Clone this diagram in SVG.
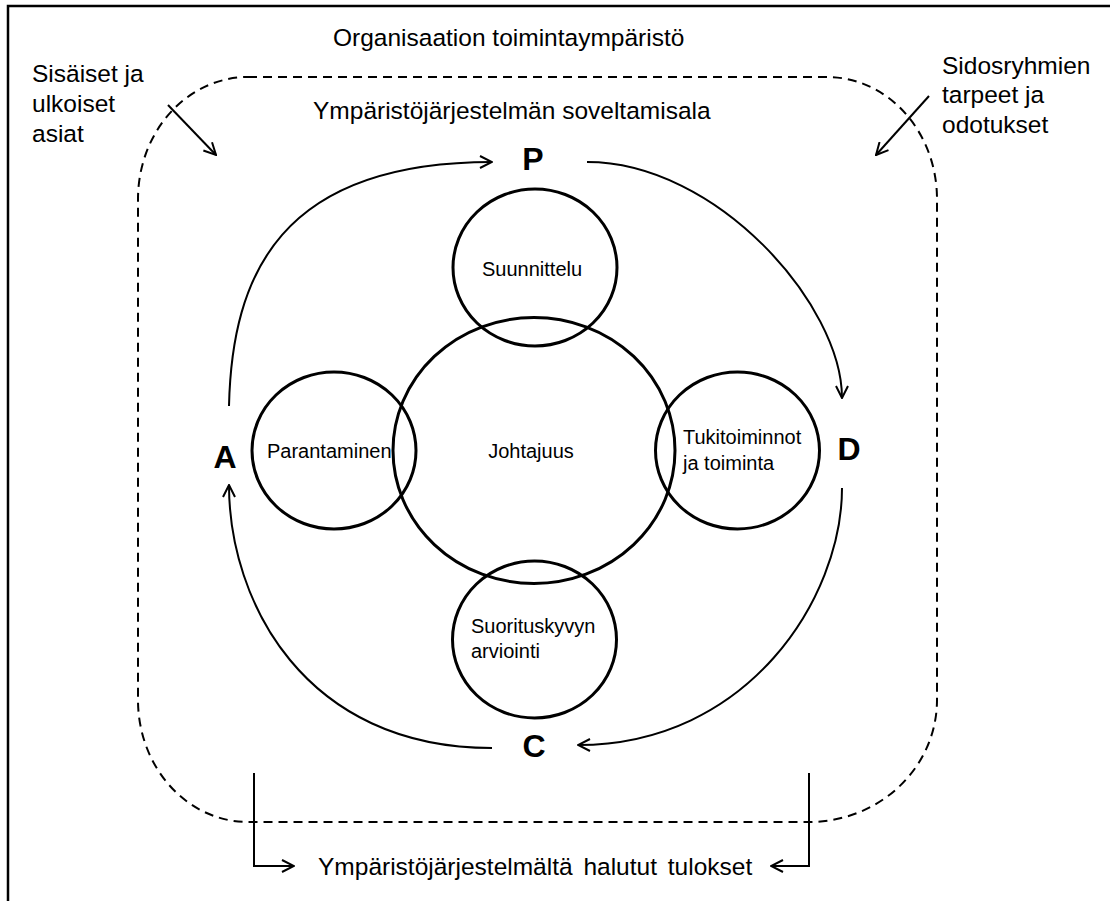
<svg xmlns="http://www.w3.org/2000/svg" width="1110" height="901" viewBox="0 0 1110 901">
<style>
text{font-family:"Liberation Sans",Arial,sans-serif;fill:#000}
.lbl{font-size:24.5px}
.in{font-size:20px}
.big{font-size:32px;font-weight:bold}
.ring{fill:none;stroke:#000;stroke-width:3}
.arc{fill:none;stroke:#000;stroke-width:2}
.dash{fill:none;stroke:#000;stroke-width:2;stroke-dasharray:9 6}
</style>
<defs>
<marker id="ah" viewBox="0 0 14 14" refX="13" refY="7" markerWidth="14" markerHeight="14" markerUnits="userSpaceOnUse" orient="auto">
<path d="M1,1 L13,7 L1,13" fill="none" stroke="#000" stroke-width="2"/>
</marker>
</defs>
<rect width="1110" height="901" fill="#fff"/>
<path d="M8,901 L8,6 L1110,6" fill="none" stroke="#000" stroke-width="2.5"/>
<g id="scope">
<path class="dash" d="M248,77 L827,77 A110,122 0 0 1 937,199 L937,700 A128,122 0 0 1 809,822 L248,822 A110,122 0 0 1 138,700 L138,199 A110,122 0 0 1 248,77 Z"/>
</g>
<g id="labels">
<text class="lbl" x="333" y="46">Organisaation toimintaympäristö</text>
<text class="lbl" x="313" y="119">Ympäristöjärjestelmän soveltamisala</text>
<text class="lbl" x="32" y="82">Sisäiset ja</text>
<text class="lbl" x="32" y="112">ulkoiset</text>
<text class="lbl" x="32" y="142">asiat</text>
<text class="lbl" x="942" y="74">Sidosryhmien</text>
<text class="lbl" x="942" y="103">tarpeet ja</text>
<text class="lbl" x="942" y="133">odotukset</text>
<text class="lbl" x="318" y="875" word-spacing="4">Ympäristöjärjestelmältä halutut tulokset</text>
</g>
<g id="johtajuus">
<ellipse class="ring" cx="534" cy="450.5" rx="141" ry="133"/>
<text class="in" x="531" y="458" text-anchor="middle">Johtajuus</text>
</g>
<g id="suunnittelu">
<ellipse class="ring" cx="535" cy="267.5" rx="82" ry="78.5"/>
<text class="in" x="482" y="276">Suunnittelu</text>
</g>
<g id="parantaminen">
<ellipse class="ring" cx="334" cy="450.5" rx="82" ry="78.5"/>
<text class="in" x="267" y="458">Parantaminen</text>
</g>
<g id="tukitoiminnot">
<ellipse class="ring" cx="737.5" cy="450.5" rx="82" ry="78.5"/>
<text class="in" x="683" y="444">Tukitoiminnot</text>
<text class="in" x="683" y="470">ja toiminta</text>
</g>
<g id="suorituskyky">
<ellipse class="ring" cx="534.5" cy="639.5" rx="82" ry="78.5"/>
<text class="in" x="471" y="633">Suorituskyvyn</text>
<text class="in" x="471" y="658">arviointi</text>
</g>
<g id="P"><text class="big" x="533" y="170" text-anchor="middle">P</text></g>
<g id="D"><text class="big" x="849" y="460" text-anchor="middle">D</text></g>
<g id="C"><text class="big" x="534" y="757" text-anchor="middle">C</text></g>
<g id="A"><text class="big" x="225" y="468" text-anchor="middle">A</text></g>
<g id="connectors">
<path class="arc" d="M229,406 C232,275 280,162 492,162" marker-end="url(#ah)"/>
<path class="arc" d="M587,162 C717,162 842,305 842,398" marker-end="url(#ah)"/>
<path class="arc" d="M842,488 C842,598 748,745 578,745" marker-end="url(#ah)"/>
<path class="arc" d="M492,748 C304,748 229,601 229,485" marker-end="url(#ah)"/>
<path class="arc" d="M168,105 L216,155" marker-end="url(#ah)"/>
<path class="arc" d="M929,96 L876,155" marker-end="url(#ah)"/>
<path class="arc" d="M254,773 L254,866 L294,866" marker-end="url(#ah)"/>
<path class="arc" d="M809,773 L809,866 L771,866" marker-end="url(#ah)"/>
</g>
</svg>
